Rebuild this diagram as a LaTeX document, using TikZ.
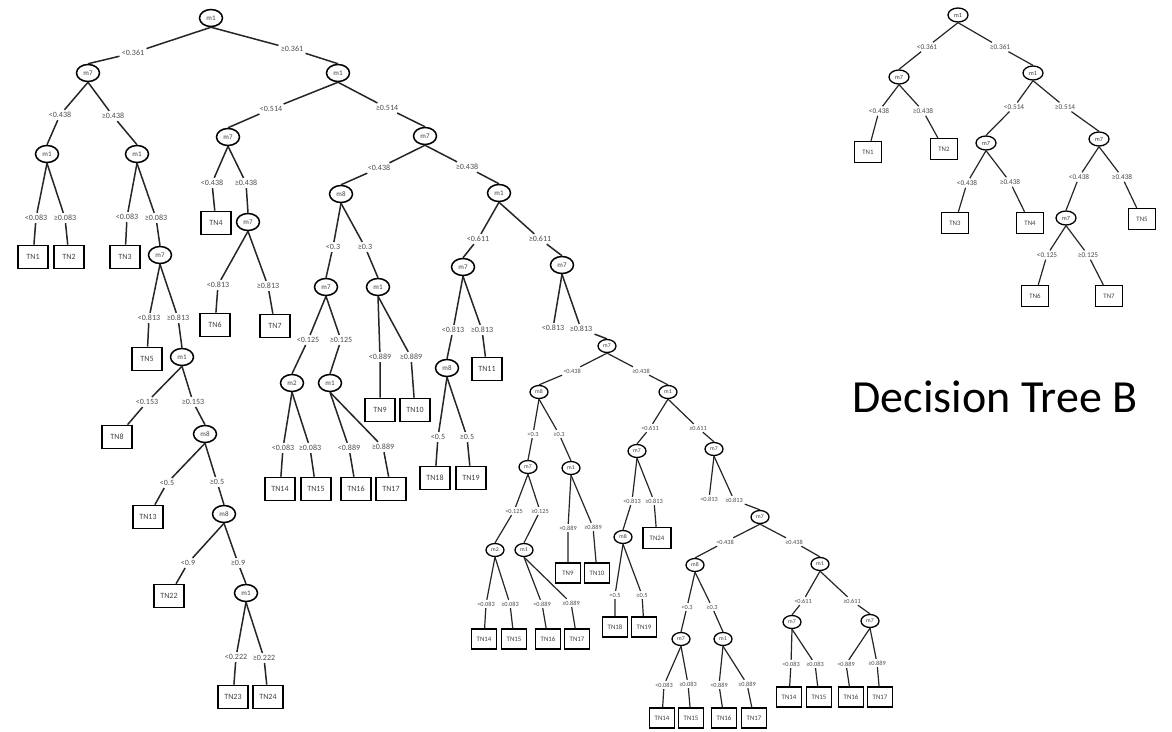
\documentclass[tikz,border=0pt]{standalone}
\usepackage{fontspec}
\setmainfont{Carlito}
\usetikzlibrary{shapes.geometric}
\tikzset{
  edgeA/.style={line width=1.5pt, black!85},
  edgeS/.style={line width=1.2pt, black!85},
  innA/.style={ellipse, draw, line width=1.5pt, minimum width=23pt, minimum height=17pt, inner sep=0pt, font=\fontsize{7}{8}\selectfont, text=black!75},
  innS/.style={ellipse, draw, line width=1.3pt, minimum width=18pt, minimum height=13pt, inner sep=0pt, font=\fontsize{5.8}{6}\selectfont, text=black!75},
  innB/.style={ellipse, draw, line width=1.3pt, minimum width=20pt, minimum height=14pt, inner sep=0pt, font=\fontsize{6.3}{7}\selectfont, text=black!75},
  leafA/.style={rectangle, draw, line width=1.6pt, minimum width=30pt, minimum height=23pt, inner sep=0pt, font=\fontsize{8}{9}\selectfont, text=black!75},
  leafS/.style={rectangle, draw, line width=1.4pt, minimum width=25pt, minimum height=20pt, inner sep=0pt, font=\fontsize{6.8}{7}\selectfont, text=black!75},
  leafB/.style={rectangle, draw, line width=1.4pt, minimum width=27pt, minimum height=21pt, inner sep=0pt, font=\fontsize{6.8}{7}\selectfont, text=black!75},
  labA/.style={font=\fontsize{8}{9}\selectfont, text=black!70, inner sep=2.2pt},
  labS/.style={font=\fontsize{6.3}{7}\selectfont, text=black!70, inner sep=1.8pt},
  labB/.style={font=\fontsize{7.3}{8}\selectfont, text=black!70, inner sep=2pt},
}
\begin{document}
\begin{tikzpicture}[x=1pt,y=-1pt]
\useasboundingbox (0,0) rectangle (1172,731);
\fill[white] (0,0) rectangle (1172,731);

% ===== Tree A: upper part =====
\node[innA] (a0) at (211,18) {m1};
\node[labA] (la1) at (133,53) {<0.361};
\node[labA] (la2) at (292,49) {≥0.361};
\node[innA] (a1) at (88,73) {m7};
\node[innA] (a2) at (338,73) {m1};
\node[labA] (la3) at (60,115) {<0.438};
\node[labA] (la4) at (113,116) {≥0.438};
\node[innA] (a3) at (47,154) {m1};
\node[innA] (a4) at (137,154) {m1};
\node[labA] (la5) at (36,218) {<0.083};
\node[labA] (la6) at (65,218) {≥0.083};
\node[leafA] (tn1) at (33,257) {TN1};
\node[leafA] (tn2) at (69,257) {TN2};
\node[labA] (la7) at (127,217) {<0.083};
\node[labA] (la8) at (156,218) {≥0.083};
\node[leafA] (tn3) at (125,257) {TN3};
\node[innA] (a5) at (160,255) {m7};
\node[labA] (la9) at (149,318) {<0.813};
\node[labA] (la10) at (178,318) {≥0.813};
\node[leafA] (tn5) at (147,359) {TN5};
\node[innA] (a6) at (182,357) {m1};
\node[labA] (la11) at (147,402) {<0.153};
\node[labA] (la12) at (193,402) {≥0.153};
\node[leafA] (tn8) at (117,437) {TN8};
\node[innA] (a7) at (205,434) {m8};
\node[labA] (la13) at (167,483) {<0.5};
\node[labA] (la14) at (217,482) {≥0.5};
\node[leafA] (tn13) at (148,517) {TN13};
\node[innA] (a8) at (224,514) {m8};
\node[labA] (la15) at (188,563) {<0.9};
\node[labA] (la16) at (238,563) {≥0.9};
\node[leafA] (tn22) at (169,596) {TN22};
\node[innA] (a9) at (246,593) {m1};
\node[labA] (la17) at (236,657) {<0.222};
\node[labA] (la18) at (264,658) {≥0.222};
\node[leafA] (tn23) at (233,697) {TN23};
\node[leafA] (tn24) at (268,697) {TN24};

\node[labA] (la19) at (271,109) {<0.514};
\node[labA] (la20) at (387,108) {≥0.514};
\node[innA] (a10) at (228,137) {m7};
\node[innA] (a11) at (425,136) {m7};
\node[labA] (la21) at (212,183) {<0.438};
\node[labA] (la22) at (246,183) {≥0.438};
\node[leafA] (tn4) at (216,223) {TN4};
\node[innA] (a12) at (248,222) {m7};
\node[labA] (la23) at (218,285) {<0.813};
\node[labA] (la24) at (268,286) {≥0.813};
\node[leafA] (tn6) at (215,325) {TN6};
\node[leafA] (tn7) at (275,326) {TN7};
\node[labA] (la25) at (379,168) {<0.438};
\node[labA] (la26) at (467,167) {≥0.438};
\node[innA] (a13) at (341,194) {m8};
\node[innA] (a14) at (499,193) {m1};
\node[labA] (la27) at (333,247) {<0.3};
\node[labA] (la28) at (365,247) {≥0.3};
\node[innA] (a15) at (326,287) {m7};
\node[innA] (a16) at (378,287) {m1};
\node[labA] (la29) at (308,340) {<0.125};
\node[labA] (la30) at (341,340) {≥0.125};
\node[innA] (a17) at (292,383) {m2};
\node[innA] (a18) at (330,383) {m1};
\node[labA] (la31) at (283,448) {<0.083};
\node[labA] (la32) at (310,448) {≥0.083};
\node[leafA] (tn14a) at (280,489) {TN14};
\node[leafA] (tn15a) at (316,489) {TN15};
\node[labA] (la33) at (349,448) {<0.889};
\node[labA] (la34) at (383,447) {≥0.889};
\node[leafA] (tn16a) at (356,489) {TN16};
\node[leafA] (tn17a) at (391,489) {TN17};
\node[labA] (la35) at (380,357) {<0.889};
\node[labA] (la36) at (411,357) {≥0.889};
\node[leafA] (tn9a) at (380,410) {TN9};
\node[leafA] (tn10a) at (415,410) {TN10};
\node[labA] (la37) at (478,239) {<0.611};
\node[labA] (la38) at (540,239) {≥0.611};
\node[innA] (a19) at (463,267) {m7};
\node[innA] (a20) at (562,265) {m7};
\node[labA] (la39) at (453,330) {<0.813};
\node[labA] (la40) at (482,330) {≥0.813};
\node[innA] (a21) at (447,368) {m8};
\node[leafA] (tn11) at (487,369) {TN11};
\node[labA] (la41) at (438,437) {<0.5};
\node[labA] (la42) at (467,437) {≥0.5};
\node[leafA] (tn18a) at (435,478) {TN18};
\node[leafA] (tn19a) at (471,478) {TN19};
\node[labA] (la43) at (553,328) {<0.813};
\node[labA] (la44) at (581,329) {≥0.813};

\draw[edgeA] (a0.south) -- (la1) -- (a1.north);
\draw[edgeA] (a0.south) -- (la2) -- (a2.north);
\draw[edgeA] (a1.south) -- (la3) -- (a3.north);
\draw[edgeA] (a1.south) -- (la4) -- (a4.north);
\draw[edgeA] (a3.south) -- (la5) -- (tn1);
\draw[edgeA] (a3.south) -- (la6) -- (tn2);
\draw[edgeA] (a4.south) -- (la7) -- (tn3);
\draw[edgeA] (a4.south) -- (la8) -- (a5.north);
\draw[edgeA] (a5.south) -- (la9) -- (tn5);
\draw[edgeA] (a5.south) -- (la10) -- (a6.north);
\draw[edgeA] (a6.south) -- (la11) -- (tn8);
\draw[edgeA] (a6.south) -- (la12) -- (a7.north);
\draw[edgeA] (a7.south) -- (la13) -- (tn13);
\draw[edgeA] (a7.south) -- (la14) -- (a8.north);
\draw[edgeA] (a8.south) -- (la15) -- (tn22);
\draw[edgeA] (a8.south) -- (la16) -- (a9.north);
\draw[edgeA] (a9.south) -- (la17) -- (tn23);
\draw[edgeA] (a9.south) -- (la18) -- (tn24);
\draw[edgeA] (a2.south) -- (la19) -- (a10.north);
\draw[edgeA] (a2.south) -- (la20) -- (a11.north);
\draw[edgeA] (a10.south) -- (la21) -- (tn4);
\draw[edgeA] (a10.south) -- (la22) -- (a12.north);
\draw[edgeA] (a12.south) -- (la23) -- (tn6);
\draw[edgeA] (a12.south) -- (la24) -- (tn7);
\draw[edgeA] (a11.south) -- (la25) -- (a13.north);
\draw[edgeA] (a11.south) -- (la26) -- (a14.north);
\draw[edgeA] (a13.south) -- (la27) -- (a15.north);
\draw[edgeA] (a13.south) -- (la28) -- (a16.north);
\draw[edgeA] (a15.south) -- (la29) -- (a17.north);
\draw[edgeA] (a15.south) -- (la30) -- (a18.north);
\draw[edgeA] (a17.south) -- (la31) -- (tn14a);
\draw[edgeA] (a17.south) -- (la32) -- (tn15a);
\draw[edgeA] (a18.south) -- (la33) -- (tn16a);
\draw[edgeA] (a18.south) -- (la34) -- (tn17a);
\draw[edgeA] (a16.south) -- (la35) -- (tn9a);
\draw[edgeA] (a16.south) -- (la36) -- (tn10a);
\draw[edgeA] (a14.south) -- (la37) -- (a19.north);
\draw[edgeA] (a14.south) -- (la38) -- (a20.north);
\draw[edgeA] (a19.south) -- (la39) -- (a21.north);
\draw[edgeA] (a19.south) -- (la40) -- (tn11);
\draw[edgeA] (a21.south) -- (la41) -- (tn18a);
\draw[edgeA] (a21.south) -- (la42) -- (tn19a);
\draw[edgeA] (a20.south) -- (la43);

% ===== Tree A: lower (smaller) part =====
\node[innS] (b0) at (607,346) {m7};
\node[labS] (lb1) at (572,371) {<0.438};
\node[labS] (lb2) at (641,371) {≥0.438};
\node[innS] (b1) at (539,392) {m8};
\node[innS] (b2) at (668,392) {m1};
\node[labS] (lb3) at (533,434) {<0.3};
\node[labS] (lb4) at (559,434) {≥0.3};
\node[innS] (b3) at (528,467) {m7};
\node[innS] (b4) at (571,468) {m1};
\node[labS] (lb5) at (514,511) {<0.125};
\node[labS] (lb6) at (540,511) {≥0.125};
\node[innS] (b5) at (495,550) {m2};
\node[innS] (b6) at (524,550) {m1};
\node[labS] (lb7) at (486,604) {<0.083};
\node[labS] (lb8) at (510,604) {≥0.083};
\node[leafS] (tn14b) at (484,639) {TN14};
\node[leafS] (tn15b) at (514,639) {TN15};
\node[labS] (lb9) at (542,604) {<0.889};
\node[labS] (lb10) at (571,603) {≥0.889};
\node[leafS] (tn16b) at (548,639) {TN16};
\node[leafS] (tn17b) at (577,639) {TN17};
\node[labS] (lb11) at (568,528) {<0.889};
\node[labS] (lb12) at (593,527) {≥0.889};
\node[leafS] (tn9b) at (568,573) {TN9};
\node[leafS] (tn10b) at (597,573) {TN10};
\node[labS] (lb13) at (650,428) {<0.611};
\node[labS] (lb14) at (698,428) {≥0.611};
\node[innS] (b7) at (637,451) {m7};
\node[innS] (b8) at (714,449) {m7};
\node[labS] (lb15) at (632,501) {<0.813};
\node[labS] (lb16) at (654,501) {≥0.813};
\node[innS] (b9) at (623,537) {m8};
\node[leafS, minimum width=28pt, minimum height=21pt] (tn24b) at (657,538) {TN24};
\node[labS] (lb17) at (615,595) {<0.5};
\node[labS] (lb18) at (642,595) {≥0.5};
\node[leafS] (tn18b) at (615,627) {TN18};
\node[leafS] (tn19b) at (644,627) {TN19};
\node[labS] (lb19) at (709,499) {<0.813};
\node[labS] (lb20) at (734,500) {≥0.813};
\node[innS] (b10) at (760,517) {m7};
\node[labS] (lb21) at (725,542) {<0.438};
\node[labS] (lb22) at (794,542) {≥0.438};
\node[innS] (b11) at (695,565) {m8};
\node[innS] (b12) at (820,564) {m1};
\node[labS] (lb23) at (687,607) {<0.3};
\node[labS] (lb24) at (712,607) {≥0.3};
\node[innS] (b13) at (681,639) {m7};
\node[innS] (b14) at (723,639) {m1};
\node[labS] (lb25) at (664,685) {<0.083};
\node[labS] (lb26) at (688,684) {≥0.083};
\node[leafS] (tn14c) at (662,718) {TN14};
\node[leafS] (tn15c) at (691,718) {TN15};
\node[labS] (lb27) at (719,685) {<0.889};
\node[labS] (lb28) at (747,684) {≥0.889};
\node[leafS] (tn16c) at (724,718) {TN16};
\node[leafS] (tn17c) at (754,718) {TN17};
\node[labS] (lb29) at (803,601) {<0.611};
\node[labS] (lb30) at (852,601) {≥0.611};
\node[innS] (b15) at (792,622) {m7};
\node[innS] (b16) at (870,621) {m7};
\node[labS] (lb31) at (791,664) {<0.083};
\node[labS] (lb32) at (815,664) {≥0.083};
\node[leafS] (tn14d) at (789,697) {TN14};
\node[leafS] (tn15d) at (819,697) {TN15};
\node[labS] (lb33) at (846,664) {<0.889};
\node[labS] (lb34) at (877,663) {≥0.889};
\node[leafS] (tn16d) at (851,697) {TN16};
\node[leafS] (tn17d) at (880,697) {TN17};

\draw[edgeA] (a20.south) -- (la44) -- (b0.north);
\draw[edgeS] (b0.south) -- (lb1) -- (b1.north);
\draw[edgeS] (b0.south) -- (lb2) -- (b2.north);
\draw[edgeS] (b1.south) -- (lb3) -- (b3.north);
\draw[edgeS] (b1.south) -- (lb4) -- (b4.north);
\draw[edgeS] (b3.south) -- (lb5) -- (b5.north);
\draw[edgeS] (b3.south) -- (lb6) -- (b6.north);
\draw[edgeS] (b5.south) -- (lb7) -- (tn14b);
\draw[edgeS] (b5.south) -- (lb8) -- (tn15b);
\draw[edgeS] (b6.south) -- (lb9) -- (tn16b);
\draw[edgeS] (b6.south) -- (lb10) -- (tn17b);
\draw[edgeS] (b4.south) -- (lb11) -- (tn9b);
\draw[edgeS] (b4.south) -- (lb12) -- (tn10b);
\draw[edgeS] (b2.south) -- (lb13) -- (b7.north);
\draw[edgeS] (b2.south) -- (lb14) -- (b8.north);
\draw[edgeS] (b7.south) -- (lb15) -- (b9.north);
\draw[edgeS] (b7.south) -- (lb16) -- (tn24b);
\draw[edgeS] (b9.south) -- (lb17) -- (tn18b);
\draw[edgeS] (b9.south) -- (lb18) -- (tn19b);
\draw[edgeS] (b8.south) -- (lb19);
\draw[edgeS] (b8.south) -- (lb20) -- (b10.north);
\draw[edgeS] (b10.south) -- (lb21) -- (b11.north);
\draw[edgeS] (b10.south) -- (lb22) -- (b12.north);
\draw[edgeS] (b11.south) -- (lb23) -- (b13.north);
\draw[edgeS] (b11.south) -- (lb24) -- (b14.north);
\draw[edgeS] (b13.south) -- (lb25) -- (tn14c);
\draw[edgeS] (b13.south) -- (lb26) -- (tn15c);
\draw[edgeS] (b14.south) -- (lb27) -- (tn16c);
\draw[edgeS] (b14.south) -- (lb28) -- (tn17c);
\draw[edgeS] (b12.south) -- (lb29) -- (b15.north);
\draw[edgeS] (b12.south) -- (lb30) -- (b16.north);
\draw[edgeS] (b15.south) -- (lb31) -- (tn14d);
\draw[edgeS] (b15.south) -- (lb32) -- (tn15d);
\draw[edgeS] (b16.south) -- (lb33) -- (tn16d);
\draw[edgeS] (b16.south) -- (lb34) -- (tn17d);

% ===== Tree B =====
\node[innB] (c0) at (958,15) {m1};
\node[labB] (lc1) at (927,47) {<0.361};
\node[labB] (lc2) at (1000,47) {≥0.361};
\node[innB] (c1) at (899,77) {m7};
\node[innB] (c2) at (1033,73) {m1};
\node[labB] (lc3) at (879,111) {<0.438};
\node[labB] (lc4) at (923,111) {≥0.438};
\node[leafB] (tb1) at (868,152) {TN1};
\node[leafB] (tb2) at (944,149) {TN2};
\node[labB] (lc5) at (1014,107) {<0.514};
\node[labB] (lc6) at (1065,107) {≥0.514};
\node[innB] (c3) at (986,143) {m7};
\node[innB] (c4) at (1099,139) {m7};
\node[labB] (lc7) at (967,183) {<0.438};
\node[labB] (lc8) at (1010,182) {≥0.438};
\node[leafB] (tb3) at (955,223) {TN3};
\node[leafB] (tb4) at (1030,223) {TN4};
\node[labB] (lc9) at (1079,177) {<0.438};
\node[labB] (lc10) at (1122,177) {≥0.438};
\node[innB] (c5) at (1066,218) {m7};
\node[leafB] (tb5) at (1142,219) {TN5};
\node[labB] (lc11) at (1047,255) {<0.125};
\node[labB] (lc12) at (1088,255) {≥0.125};
\node[leafB] (tb6) at (1035,296) {TN6};
\node[leafB] (tb7) at (1109,296) {TN7};

\draw[edgeS] (c0.south) -- (lc1) -- (c1.north);
\draw[edgeS] (c0.south) -- (lc2) -- (c2.north);
\draw[edgeS] (c1.south) -- (lc3) -- (tb1);
\draw[edgeS] (c1.south) -- (lc4) -- (tb2);
\draw[edgeS] (c2.south) -- (lc5) -- (c3.north);
\draw[edgeS] (c2.south) -- (lc6) -- (c4.north);
\draw[edgeS] (c3.south) -- (lc7) -- (tb3);
\draw[edgeS] (c3.south) -- (lc8) -- (tb4);
\draw[edgeS] (c4.south) -- (lc9) -- (c5.north);
\draw[edgeS] (c4.south) -- (lc10) -- (tb5);
\draw[edgeS] (c5.south) -- (lc11) -- (tb6);
\draw[edgeS] (c5.south) -- (lc12) -- (tb7);

\node[font=\fontsize{46}{50}\selectfont, text=black, inner sep=0pt] (title) at (995,397) {Decision Tree B};
\end{tikzpicture}
\end{document}
